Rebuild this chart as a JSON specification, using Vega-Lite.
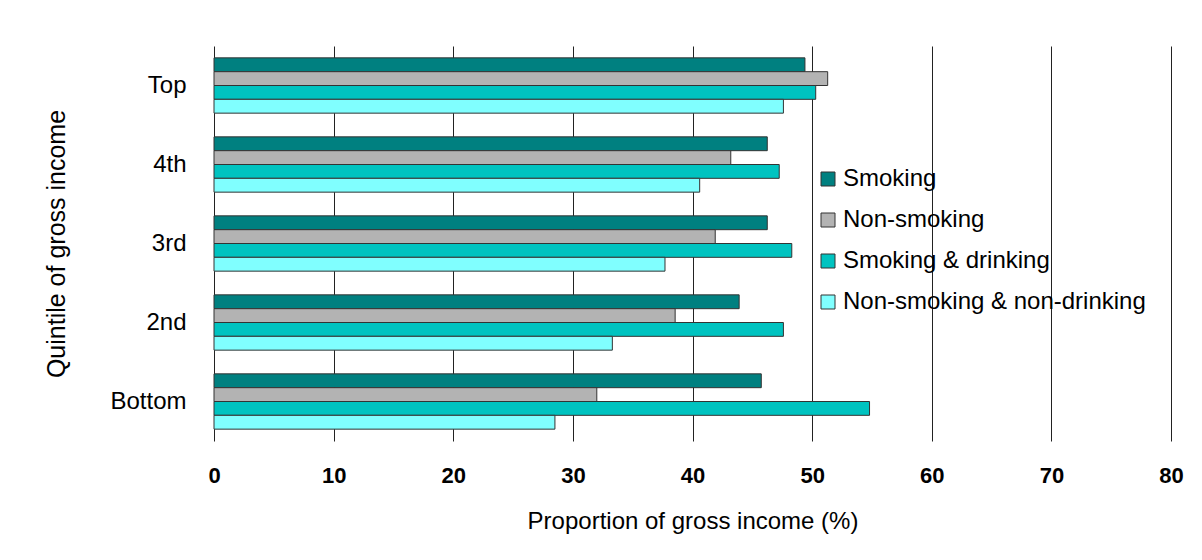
{
  "$schema": "https://vega.github.io/schema/vega-lite/v6.json",
  "autosize": {"type": "none"},
  "padding": {"left": 214, "top": 46, "right": 31, "bottom": 119},
  "width": 957,
  "height": 395,
  "background": "white",
  "config": {
    "view": {"stroke": null},
    "font": "Liberation Sans"
  },
  "data": {
    "values": [
      {"quintile": "Top", "series": "Smoking", "value": 49.4},
      {"quintile": "Top", "series": "Non-smoking", "value": 51.3},
      {"quintile": "Top", "series": "Smoking & drinking", "value": 50.3},
      {"quintile": "Top", "series": "Non-smoking & non-drinking", "value": 47.6},
      {"quintile": "4th", "series": "Smoking", "value": 46.25},
      {"quintile": "4th", "series": "Non-smoking", "value": 43.2},
      {"quintile": "4th", "series": "Smoking & drinking", "value": 47.25},
      {"quintile": "4th", "series": "Non-smoking & non-drinking", "value": 40.6},
      {"quintile": "3rd", "series": "Smoking", "value": 46.25},
      {"quintile": "3rd", "series": "Non-smoking", "value": 41.9},
      {"quintile": "3rd", "series": "Smoking & drinking", "value": 48.3},
      {"quintile": "3rd", "series": "Non-smoking & non-drinking", "value": 37.7},
      {"quintile": "2nd", "series": "Smoking", "value": 43.9},
      {"quintile": "2nd", "series": "Non-smoking", "value": 38.55},
      {"quintile": "2nd", "series": "Smoking & drinking", "value": 47.6},
      {"quintile": "2nd", "series": "Non-smoking & non-drinking", "value": 33.3},
      {"quintile": "Bottom", "series": "Smoking", "value": 45.75},
      {"quintile": "Bottom", "series": "Non-smoking", "value": 32.0},
      {"quintile": "Bottom", "series": "Smoking & drinking", "value": 54.8},
      {"quintile": "Bottom", "series": "Non-smoking & non-drinking", "value": 28.5}
    ]
  },
  "mark": {"type": "bar", "stroke": "#333333", "strokeWidth": 1, "opacity": 1},
  "encoding": {
    "y": {
      "field": "quintile",
      "type": "nominal",
      "sort": ["Top", "4th", "3rd", "2nd", "Bottom"],
      "scale": {"paddingInner": 0.3, "paddingOuter": 0.15},
      "axis": {
        "title": "Quintile of gross income",
        "titleFontSize": 25,
        "titleFontWeight": "normal",
        "titleColor": "#000000",
        "titlePadding": 40,
        "labelFontSize": 24,
        "labelColor": "#000000",
        "labelPadding": 28,
        "ticks": false,
        "domain": false,
        "grid": false
      }
    },
    "yOffset": {
      "field": "series",
      "type": "nominal",
      "sort": ["Smoking", "Non-smoking", "Smoking & drinking", "Non-smoking & non-drinking"]
    },
    "x": {
      "field": "value",
      "type": "quantitative",
      "scale": {"domain": [0, 80], "nice": false},
      "axis": {
        "title": "Proportion of gross income (%)",
        "titleFontSize": 24,
        "titleFontWeight": "normal",
        "titleColor": "#000000",
        "titlePadding": 23,
        "values": [0, 10, 20, 30, 40, 50, 60, 70, 80],
        "labelFontSize": 22,
        "labelFontWeight": "bold",
        "labelColor": "#000000",
        "labelPadding": 24,
        "labelFlush": false,
        "ticks": false,
        "domain": false,
        "grid": true,
        "gridColor": "#222222",
        "gridWidth": 1,
        "gridOpacity": 1
      }
    },
    "color": {
      "field": "series",
      "type": "nominal",
      "sort": ["Smoking", "Non-smoking", "Smoking & drinking", "Non-smoking & non-drinking"],
      "scale": {
        "domain": ["Smoking", "Non-smoking", "Smoking & drinking", "Non-smoking & non-drinking"],
        "range": ["#008080", "#B3B3B3", "#00C3C0", "#80FFFF"]
      },
      "legend": {
        "orient": "none",
        "legendX": 602,
        "legendY": 121,
        "title": null,
        "padding": 0,
        "symbolType": "square",
        "symbolSize": 196,
        "symbolStrokeColor": "#333333",
        "symbolStrokeWidth": 1,
        "symbolOpacity": 1,
        "labelFontSize": 24,
        "labelColor": "#000000",
        "labelOffset": 3,
        "labelLimit": 600,
        "rowPadding": 17
      }
    }
  }
}
